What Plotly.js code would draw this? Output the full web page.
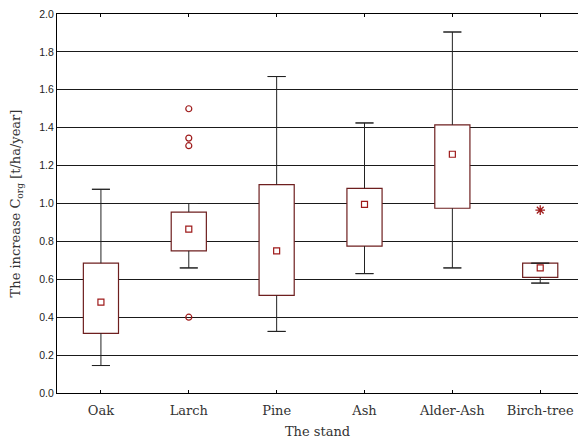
<!DOCTYPE html>
<html>
<head>
<meta charset="utf-8">
<script src="https://cdn.plot.ly/plotly-3.0.1.min.js"></script>
<style>html,body{margin:0;padding:0;background:#fff}#chart{width:578px;height:444px}</style>
</head>
<body>
<div id="chart"></div>
<script>
const categories = ['Oak', 'Larch', 'Pine', 'Ash', 'Alder-Ash', 'Birch-tree'];
const medianVals = [0.48, 0.865, 0.75, 0.995, 1.26, 0.66];
const q1Vals = [0.315, 0.75, 0.515, 0.775, 0.975, 0.61];
const q3Vals = [0.685, 0.955, 1.10, 1.08, 1.415, 0.685];
const lowerVals = [0.145, 0.66, 0.325, 0.63, 0.66, 0.58];
const upperVals = [1.075, 1.0, 1.67, 1.425, 1.905, 0.685];
const outlierCats = ['Larch', 'Larch', 'Larch', 'Larch'];
const outlierVals = [1.50, 1.345, 1.305, 0.40];
const extremeCats = ['Birch-tree'];
const extremeVals = [0.965];

const boxRed = '#6e1f1f';
const markRed = '#9e1a1a';
const whisk = '#222222';
const zeros = categories.map(() => 0);

// box body: 25%-75%
const boxTrace = {
  type: 'bar', x: categories,
  base: q1Vals,
  y: q3Vals.map((v, i) => v - q1Vals[i]),
  width: 0.4,
  marker: {color: '#ffffff', line: {color: boxRed, width: 1.2}},
  showlegend: false
};
const hidden = {size: 1, opacity: 0};
// upper whisker line: 75% -> non-outlier max
const upperWhisker = {
  type: 'scatter', mode: 'markers', x: categories, y: q3Vals, marker: hidden,
  error_y: {type: 'data', symmetric: false,
    array: upperVals.map((v, i) => v - q3Vals[i]), arrayminus: zeros,
    color: whisk, thickness: 1, width: 0},
  showlegend: false, hoverinfo: 'skip'
};
// lower whisker line: 25% -> non-outlier min
const lowerWhisker = {
  type: 'scatter', mode: 'markers', x: categories, y: q1Vals, marker: hidden,
  error_y: {type: 'data', symmetric: false,
    array: zeros, arrayminus: q1Vals.map((v, i) => v - lowerVals[i]),
    color: whisk, thickness: 1, width: 0},
  showlegend: false, hoverinfo: 'skip'
};
// whisker caps at non-outlier min and max
const caps = {
  type: 'scatter', mode: 'markers',
  x: categories.concat(categories), y: upperVals.concat(lowerVals), marker: hidden,
  error_y: {type: 'constant', value: 0, color: whisk, thickness: 1, width: 9},
  showlegend: false, hoverinfo: 'skip'
};
const medTrace = {
  type: 'scatter', mode: 'markers', x: categories, y: medianVals,
  marker: {symbol: 'square-open', size: 6, color: markRed, line: {width: 1.2}},
  showlegend: false
};
const outTrace = {
  type: 'scatter', mode: 'markers', x: outlierCats, y: outlierVals,
  marker: {symbol: 'circle-open', size: 6, color: markRed, line: {width: 1.2}},
  showlegend: false
};
const extTrace = {
  type: 'scatter', mode: 'markers', x: extremeCats, y: extremeVals,
  marker: {symbol: 'asterisk-open', size: 8, color: markRed, line: {width: 1.3, color: markRed}},
  showlegend: false
};

const layout = {
  width: 578, height: 444,
  margin: {l: 57, r: 0, t: 14, b: 51},
  paper_bgcolor: '#ffffff', plot_bgcolor: '#ffffff',
  barmode: 'overlay',
  showlegend: false,
  xaxis: {
    type: 'category', categoryorder: 'array', categoryarray: categories,
    range: [-0.5, 5.43],
    showgrid: false, zeroline: false,
    showline: true, linecolor: '#000', linewidth: 1, mirror: 'allticks',
    ticks: 'inside', ticklen: 3, tickcolor: '#000',
    ticklabelstandoff: 5,
    tickfont: {family: 'DejaVu Serif', size: 13, color: '#333'},
    title: {text: 'The stand', font: {family: 'DejaVu Serif', size: 13, color: '#333'}, standoff: 10}
  },
  yaxis: {
    range: [0, 2.0], dtick: 0.2, tickformat: '.1f',
    showgrid: true, gridcolor: '#1a1a1a', gridwidth: 1,
    zeroline: false, showline: true, linecolor: '#000', linewidth: 1,
    ticks: '',
    tickfont: {family: 'Liberation Sans, Arial, sans-serif', size: 10.5, color: '#222'},
    title: {text: 'The increase C<sub>org</sub> [t/ha/year]', font: {family: 'DejaVu Serif', size: 13, color: '#333'}, standoff: 15}
  }
};

Plotly.newPlot('chart', [boxTrace, upperWhisker, lowerWhisker, caps, medTrace, outTrace, extTrace], layout, {displayModeBar: false, staticPlot: true});
</script>
</body>
</html>
